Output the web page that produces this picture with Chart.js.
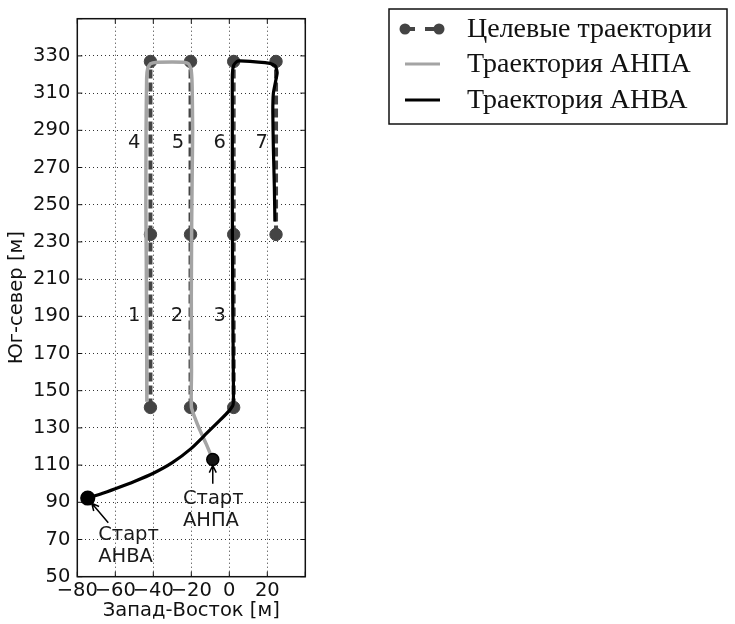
<!DOCTYPE html>
<html>
<head>
<meta charset="utf-8">
<script src="https://cdn.jsdelivr.net/npm/chart.js@4.4.1/dist/chart.umd.min.js"></script>
<style>
  html, body { margin: 0; padding: 0; background: #fff; }
  #wrap { width: 735px; height: 624px; }
</style>
</head>
<body>
<div id="wrap"><canvas id="trackChart" width="735" height="624"></canvas></div>
<script>
// axes
const xTicks = [-80, -60, -40, -20, 0, 20, 40];
const yTicks = [50, 70, 90, 110, 130, 150, 170, 190, 210, 230, 250, 270, 290, 310, 330, 350];

// target legs 1..7 (vertical segments)
const legNames = ['1', '2', '3', '4', '5', '6', '7'];
const legX = [-41.5, -20.4, 2.3, -41.5, -20.4, 2.3, 24.6];
const legStartY = [141, 141, 141, 234, 234, 234, 234];
const legEndY = [234, 234, 234, 327, 327, 327, 327];
const legLabelX = [-50, -27.5, -5, -50, -27, -5, 17];
const legLabelY = [190, 190, 190, 283, 283, 283, 283];

// АНПА track (starts at first point)
const anpaX = [-8.7, -12, -16, -19.9, -19.9, -20, -19.8, -19.5, -19.3, -19.5, -19.7, -20.2, -21.5, -24, -30, -38, -41.5, -42.9, -43.5, -43.8, -43.9, -43.7, -43.5, -43.4];
const anpaY = [113, 121, 130, 141, 160, 200, 240, 270, 290, 310, 318, 323, 325.8, 326.6, 326.7, 326.6, 325.8, 323.5, 318, 290, 250, 220, 180, 144];

// АНВА track (starts at first point)
const anvaX = [-74.5, -67, -60, -50, -40, -30, -20, -12, -5, 0, 2, 2.2, 1.8, 1.6, 1.6, 1.6, 2.3, 4, 5.6, 21.4, 24.3, 25.2, 24.3, 23.2, 22.9, 23.2, 23.7, 24];
const anvaY = [92.3, 94.7, 97.3, 101.2, 105.6, 111.3, 119, 127, 134, 139.3, 142.5, 150, 200, 250, 300, 320, 325, 327, 327.3, 326, 324.5, 321, 316, 310, 300, 280, 260, 241];

// start annotations
const startText = [['Старт', 'АНПА'], ['Старт', 'АНВА']];
const startTextX = [-24.4, -69];
const startTextY = [92, 72.5];
const arrowFromX = [-8.7, -63.7];
const arrowFromY = [100, 79];
const arrowToX = [-8.7, -72.4];
const arrowToY = [109.8, 89.5];

const legendLabels = ['Целевые траектории', 'Траектория АНПА', 'Траектория АНВА'];

const TARGET = '#444444';
const ANPA = '#a4a4a4';
const ANVA = '#000000';
const FONT = '"DejaVu Sans", sans-serif';
const FONT_SIZE = 19.5;

const toPoints = (xs, ys) => xs.map((v, i) => ({ x: v, y: ys[i] }));

// unique target waypoints from leg ends
const targetPoints = [];
legX.forEach((lx, i) => {
    [legStartY[i], legEndY[i]].forEach(ly => {
        if (!targetPoints.some(p => p.x === lx && p.y === ly)) targetPoints.push({ x: lx, y: ly });
    });
});

const datasets = [];

datasets.push({
    label: 'АНВА',
    data: toPoints(anvaX, anvaY),
    showLine: true,
    borderColor: ANVA,
    borderWidth: 3.2,
    tension: 0.15,
    pointRadius: ctx => ctx.dataIndex === 0 ? 6 : 0,
    pointBackgroundColor: '#000',
    pointBorderColor: '#000',
    order: 1
});

datasets.push({
    label: 'АНПА',
    data: toPoints(anpaX, anpaY),
    showLine: true,
    borderColor: ANPA,
    borderWidth: 3.5,
    tension: 0.15,
    pointRadius: ctx => ctx.dataIndex === 0 ? 6 : 0,
    pointBackgroundColor: '#151515',
    pointBorderColor: '#000',
    pointBorderWidth: 1.5,
    order: 2
});

datasets.push({
    label: 'Целевые точки',
    data: targetPoints,
    showLine: false,
    pointRadius: 6.2,
    pointBackgroundColor: TARGET,
    pointBorderColor: TARGET,
    order: 3
});

legNames.forEach((name, i) => {
    datasets.push({
        label: 'Галс ' + name,
        data: [{ x: legX[i], y: legStartY[i] }, { x: legX[i], y: legEndY[i] }],
        showLine: true,
        borderColor: TARGET,
        borderWidth: 4,
        borderDash: [9, 4],
        pointRadius: 0,
        order: 4
    });
});

const minus = v => (v < 0 ? '\u2212' + Math.abs(v) : String(v));

const decorPlugin = {
    id: 'decor',
    afterDatasetsDraw(chart) {
        const { ctx, chartArea: a, scales: { x, y } } = chart;
        ctx.save();

        // leg numbers
        ctx.font = FONT_SIZE + 'px ' + FONT;
        ctx.fillStyle = '#1a1a1a';
        ctx.textAlign = 'center';
        ctx.textBaseline = 'middle';
        legNames.forEach((n, i) => {
            ctx.fillText(n, x.getPixelForValue(legLabelX[i]), y.getPixelForValue(legLabelY[i]));
        });

        // start labels
        ctx.textAlign = 'left';
        startText.forEach((lines, i) => {
            lines.forEach((t, j) => {
                ctx.fillText(t, x.getPixelForValue(startTextX[i]), y.getPixelForValue(startTextY[i]) + j * 22.5);
            });
        });

        // arrows
        ctx.strokeStyle = '#000';
        ctx.lineWidth = 1.5;
        arrowFromX.forEach((fx, i) => {
            const x0 = x.getPixelForValue(fx), y0 = y.getPixelForValue(arrowFromY[i]);
            const x1 = x.getPixelForValue(arrowToX[i]), y1 = y.getPixelForValue(arrowToY[i]);
            const ang = Math.atan2(y1 - y0, x1 - x0);
            ctx.beginPath();
            ctx.moveTo(x0, y0);
            ctx.lineTo(x1, y1);
            ctx.moveTo(x1 - 8 * Math.cos(ang - 0.45), y1 - 8 * Math.sin(ang - 0.45));
            ctx.lineTo(x1, y1);
            ctx.lineTo(x1 - 8 * Math.cos(ang + 0.45), y1 - 8 * Math.sin(ang + 0.45));
            ctx.stroke();
        });

        // inward tick marks
        ctx.lineWidth = 1;
        ctx.strokeStyle = '#111';
        ctx.beginPath();
        xTicks.forEach(v => {
            const px = x.getPixelForValue(v);
            ctx.moveTo(px, a.bottom); ctx.lineTo(px, a.bottom - 5);
            ctx.moveTo(px, a.top); ctx.lineTo(px, a.top + 5);
        });
        yTicks.forEach(v => {
            const py = y.getPixelForValue(v);
            ctx.moveTo(a.left, py); ctx.lineTo(a.left + 5, py);
            ctx.moveTo(a.right, py); ctx.lineTo(a.right - 5, py);
        });
        ctx.stroke();

        // frame
        ctx.strokeStyle = '#111';
        ctx.lineWidth = 1.5;
        ctx.strokeRect(a.left, a.top, a.right - a.left, a.bottom - a.top);
        ctx.restore();
    },
    afterDraw(chart) {
        const { ctx } = chart;
        ctx.save();
        ctx.strokeStyle = '#111';
        ctx.lineWidth = 1.5;
        ctx.strokeRect(389, 9, 338, 115);

        const rowY = [29, 64, 100];
        // row 1: dashed target sample with markers
        ctx.strokeStyle = TARGET;
        ctx.lineWidth = 4;
        ctx.setLineDash([10, 10]);
        ctx.beginPath();
        ctx.moveTo(405, rowY[0]); ctx.lineTo(439, rowY[0]);
        ctx.stroke();
        ctx.setLineDash([]);
        ctx.fillStyle = TARGET;
        [405, 439].forEach(px => {
            ctx.beginPath(); ctx.arc(px, rowY[0], 5.5, 0, Math.PI * 2); ctx.fill();
        });
        // row 2, 3
        ctx.lineWidth = 3;
        ctx.strokeStyle = ANPA;
        ctx.beginPath(); ctx.moveTo(405, rowY[1]); ctx.lineTo(440, rowY[1]); ctx.stroke();
        ctx.strokeStyle = ANVA;
        ctx.beginPath(); ctx.moveTo(405, rowY[2]); ctx.lineTo(440, rowY[2]); ctx.stroke();

        ctx.font = '28px "Liberation Serif", serif';
        ctx.fillStyle = '#111';
        ctx.textAlign = 'left';
        ctx.textBaseline = 'middle';
        legendLabels.forEach((t, i) => ctx.fillText(t, 467, rowY[i] + 1));
        ctx.restore();
    }
};

new Chart(document.getElementById('trackChart').getContext('2d'), {
    type: 'scatter',
    data: { datasets },
    options: {
        responsive: false,
        devicePixelRatio: 1,
        animation: false,
        layout: { padding: { left: 0, right: 429.7, top: 9, bottom: 0 } },
        plugins: { legend: { display: false }, tooltip: { enabled: false } },
        scales: {
            x: {
                type: 'linear',
                min: -80,
                max: 40,
                afterBuildTicks: s => { s.ticks = xTicks.map(v => ({ value: v })); },
                afterFit: s => { s.height = 47.3; },
                grid: { color: '#000', lineWidth: 0.8, drawTicks: false },
                border: { display: false, dash: [1, 3] },
                ticks: {
                    padding: 3,
                    color: '#111',
                    font: { family: FONT, size: FONT_SIZE },
                    maxRotation: 0,
                    autoSkip: false,
                    callback: v => (v === 40 ? '' : minus(v))
                },
                title: {
                    display: true,
                    text: 'Запад-Восток [м]',
                    color: '#111',
                    font: { family: FONT, size: FONT_SIZE },
                    padding: { top: 0, bottom: 1 }
                }
            },
            y: {
                type: 'linear',
                min: 50,
                max: 350,
                afterBuildTicks: s => { s.ticks = yTicks.map(v => ({ value: v })); },
                afterFit: s => { s.width = 77.3; },
                grid: { color: '#000', lineWidth: 0.8, drawTicks: false },
                border: { display: false, dash: [1, 3] },
                ticks: {
                    padding: 7,
                    color: '#111',
                    font: { family: FONT, size: FONT_SIZE },
                    autoSkip: false,
                    callback: v => (v === 350 ? '' : minus(v))
                },
                title: {
                    display: true,
                    text: 'Юг-север [м]',
                    color: '#111',
                    font: { family: FONT, size: FONT_SIZE },
                    padding: { top: 5, bottom: 0 }
                }
            }
        }
    },
    plugins: [decorPlugin]
});
</script>
</body>
</html>
